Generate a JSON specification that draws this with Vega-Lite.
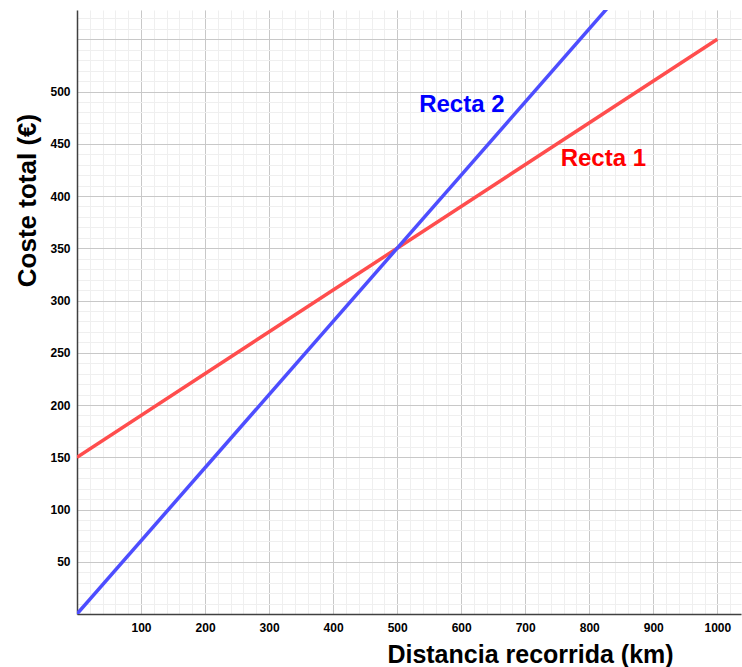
{
  "$schema": "https://vega.github.io/schema/vega-lite/v6.json",
  "width": 664,
  "height": 604,
  "autosize": {"type": "none"},
  "padding": {"left": 77, "top": 10, "right": 1, "bottom": 53},
  "background": "white",
  "config": {"view": {"stroke": null}, "font": "Liberation Sans"},
  "datasets": {
    "rectas": [
      {"serie": "Recta 1", "distancia": 0, "coste": 150},
      {"serie": "Recta 1", "distancia": 1000, "coste": 550},
      {"serie": "Recta 2", "distancia": 0, "coste": 0},
      {"serie": "Recta 2", "distancia": 830, "coste": 581}
    ],
    "etiquetas": [
      {"serie": "Recta 1", "distancia": 822, "coste": 429},
      {"serie": "Recta 2", "distancia": 601, "coste": 480}
    ]
  },
  "layer": [
    {
      "data": {"name": "rectas"},
      "mark": {"type": "point", "opacity": 0},
      "encoding": {
        "x": {
          "field": "distancia", "type": "quantitative",
          "scale": {"domain": [0, 1037], "nice": false, "zero": false},
          "axis": {
            "orient": "bottom",
            "values": [0,20,40,60,80,100,120,140,160,180,200,220,240,260,280,300,320,340,360,380,400,420,440,460,480,500,520,540,560,580,600,620,640,660,680,700,720,740,760,780,800,820,840,860,880,900,920,940,960,980,1000,1020],
            "grid": true, "gridColor": "#efefef", "gridWidth": 1,
            "labels": false, "ticks": false, "domain": false, "title": null
          }
        },
        "y": {
          "field": "coste", "type": "quantitative",
          "scale": {"domain": [0, 578], "nice": false, "zero": false},
          "axis": {
            "orient": "left",
            "values": [0,10,20,30,40,50,60,70,80,90,100,110,120,130,140,150,160,170,180,190,200,210,220,230,240,250,260,270,280,290,300,310,320,330,340,350,360,370,380,390,400,410,420,430,440,450,460,470,480,490,500,510,520,530,540,550,560,570],
            "grid": true, "gridColor": "#efefef", "gridWidth": 1,
            "labels": false, "ticks": false, "domain": false, "title": null
          }
        }
      }
    },
    {
      "data": {"name": "rectas"},
      "mark": {"type": "line", "strokeWidth": 3.5, "clip": true},
      "encoding": {
        "x": {
          "field": "distancia", "type": "quantitative",
          "axis": {
            "orient": "bottom",
            "values": [100,200,300,400,500,600,700,800,900,1000],
            "format": "d",
            "grid": true, "gridColor": "#c8c8c8", "gridWidth": 1,
            "ticks": false, "domain": true, "domainColor": "#404040", "domainWidth": 1.5,
            "labelFont": "Liberation Sans", "labelFontWeight": "bold", "labelFontSize": 12, "labelColor": "#000000",
            "labelPadding": 8,
            "title": "Distancia recorrida (km)",
            "titleFont": "Liberation Sans", "titleFontWeight": "bold", "titleFontSize": 25, "titleColor": "#000000",
            "titleX": 453, "titleY": 48, "titleAlign": "center", "titleBaseline": "alphabetic"
          }
        },
        "y": {
          "field": "coste", "type": "quantitative",
          "axis": {
            "orient": "left",
            "values": [50,100,150,200,250,300,350,400,450,500,550],
            "labelExpr": "datum.value == 550 ? '' : datum.label",
            "grid": true, "gridColor": "#c8c8c8", "gridWidth": 1,
            "ticks": false, "domain": true, "domainColor": "#404040", "domainWidth": 1.5,
            "labelFont": "Liberation Sans", "labelFontWeight": "bold", "labelFontSize": 12, "labelColor": "#000000",
            "labelPadding": 7,
            "title": "Coste total (€)",
            "titleFont": "Liberation Sans", "titleFontWeight": "bold", "titleFontSize": 26, "titleColor": "#000000",
            "titleX": -42, "titleY": 190, "titleAngle": -90, "titleAlign": "center", "titleBaseline": "alphabetic"
          }
        },
        "color": {
          "field": "serie", "type": "nominal",
          "scale": {"domain": ["Recta 1", "Recta 2"], "range": ["#ff4d4d", "#4d4dff"]},
          "legend": null
        },
        "detail": {"field": "serie"}
      }
    },
    {
      "data": {"name": "etiquetas"},
      "mark": {"type": "text", "font": "Liberation Sans", "fontWeight": "bold", "fontSize": 24, "align": "center", "baseline": "alphabetic"},
      "encoding": {
        "x": {"field": "distancia", "type": "quantitative", "axis": null},
        "y": {"field": "coste", "type": "quantitative", "axis": null},
        "text": {"field": "serie"},
        "color": {
          "field": "serie", "type": "nominal",
          "scale": {"domain": ["Recta 1", "Recta 2"], "range": ["#ff0000", "#0000ff"]},
          "legend": null
        }
      }
    }
  ],
  "resolve": {"axis": {"x": "independent", "y": "independent"}, "scale": {"color": "independent"}}
}
